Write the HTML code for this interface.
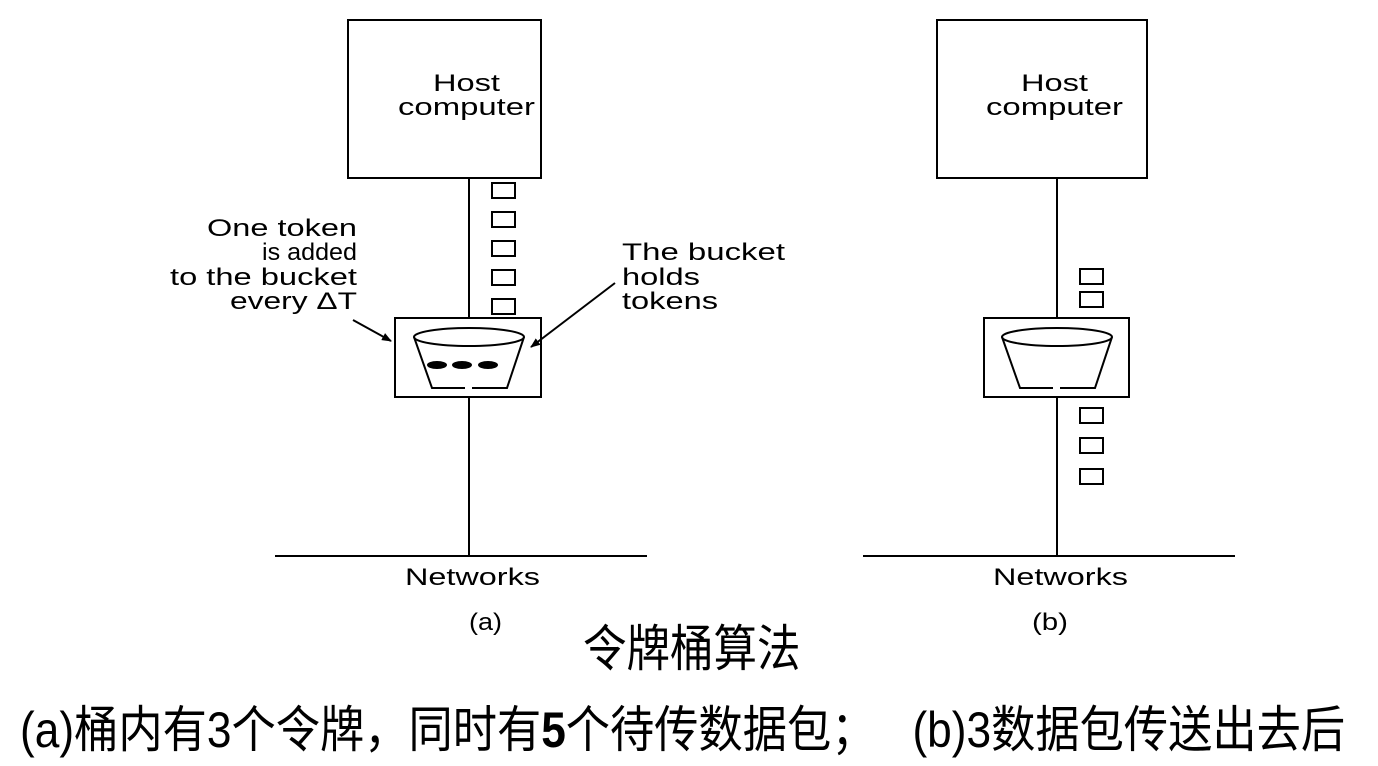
<!DOCTYPE html>
<html><head><meta charset="utf-8"><style>
body{margin:0;background:#fff;width:1378px;height:766px;overflow:hidden;position:relative}
svg{position:absolute;left:0;top:0}
.cn{position:absolute;font-family:"Liberation Sans","Noto Sans CJK SC",sans-serif;white-space:nowrap;transform-origin:left top;color:#000;line-height:1}
</style></head><body>
<svg width="1378" height="766" font-family="Liberation Sans, sans-serif" font-size="24">
<defs><marker id="ah" markerWidth="10" markerHeight="8" refX="9" refY="4" orient="auto" markerUnits="userSpaceOnUse"><path d="M0,0 L10,4 L0,8 z"/></marker></defs>
<g fill="none" stroke="#000" stroke-width="2">
<rect x="348" y="20" width="193" height="158"/>
<line x1="469" y1="178" x2="469" y2="318"/>
<rect x="395" y="318" width="146" height="79"/>
<line x1="469" y1="397" x2="469" y2="556"/>
<line x1="275" y1="556" x2="647" y2="556"/>
<rect x="492" y="183" width="23" height="15"/>
<rect x="492" y="212" width="23" height="15"/>
<rect x="492" y="241" width="23" height="15"/>
<rect x="492" y="270" width="23" height="15"/>
<rect x="492" y="299" width="23" height="15"/>
<ellipse cx="469" cy="337" rx="55" ry="9"/>
<path d="M414,337 L432,388 L465,388 M472,388 L507,388 L524,337"/>
<line x1="353" y1="320" x2="391" y2="341" marker-end="url(#ah)"/>
<line x1="615" y1="283" x2="531" y2="347" marker-end="url(#ah)"/>

<rect x="937" y="20" width="210" height="158"/>
<line x1="1057" y1="178" x2="1057" y2="318"/>
<rect x="984" y="318" width="145" height="79"/>
<line x1="1057" y1="397" x2="1057" y2="556"/>
<line x1="863" y1="556" x2="1235" y2="556"/>
<rect x="1080" y="269" width="23" height="15"/>
<rect x="1080" y="292" width="23" height="15"/>
<rect x="1080" y="408" width="23" height="15"/>
<rect x="1080" y="438" width="23" height="15"/>
<rect x="1080" y="469" width="23" height="15"/>
<ellipse cx="1057" cy="337" rx="55" ry="9"/>
<path d="M1002,337 L1020,388 L1053,388 M1060,388 L1095,388 L1112,337"/>
</g>
<g fill="#000">
<ellipse cx="437" cy="365" rx="10" ry="4"/>
<ellipse cx="462" cy="365" rx="10" ry="4"/>
<ellipse cx="488" cy="365" rx="10" ry="4"/>
</g>
<g fill="#000">
<text x="433" y="91" textLength="67" lengthAdjust="spacingAndGlyphs">Host</text>
<text x="398" y="115" textLength="137" lengthAdjust="spacingAndGlyphs">computer</text>
<text x="1021" y="91" textLength="67" lengthAdjust="spacingAndGlyphs">Host</text>
<text x="986" y="115" textLength="137" lengthAdjust="spacingAndGlyphs">computer</text>
<text x="207" y="236" textLength="150" lengthAdjust="spacingAndGlyphs">One token</text>
<text x="262" y="260" textLength="95" lengthAdjust="spacingAndGlyphs">is added</text>
<text x="170" y="285" textLength="187" lengthAdjust="spacingAndGlyphs">to the bucket</text>
<text x="230" y="309" textLength="127" lengthAdjust="spacingAndGlyphs">every ΔT</text>
<text x="622" y="260" textLength="163" lengthAdjust="spacingAndGlyphs">The bucket</text>
<text x="622" y="285" textLength="78" lengthAdjust="spacingAndGlyphs">holds</text>
<text x="622" y="309" textLength="96" lengthAdjust="spacingAndGlyphs">tokens</text>
<text x="405" y="585" textLength="135" lengthAdjust="spacingAndGlyphs">Networks</text>
<text x="993" y="585" textLength="135" lengthAdjust="spacingAndGlyphs">Networks</text>
<text x="469" y="630" textLength="33" lengthAdjust="spacingAndGlyphs">(a)</text>
<text x="1032" y="630" textLength="36" lengthAdjust="spacingAndGlyphs">(b)</text>
</g>
</svg>
<div class="cn" style="left:583px;top:624px;font-size:50px;transform:scaleX(0.87)">令牌桶算法</div>
<div class="cn" style="left:20px;top:705px;font-size:50px;transform:scaleX(0.885)">(a)桶内有3个令牌，同时有<b>5</b>个待传数据包；&nbsp;&nbsp;&nbsp;(b)3数据包传送出去后</div>
</body></html>
